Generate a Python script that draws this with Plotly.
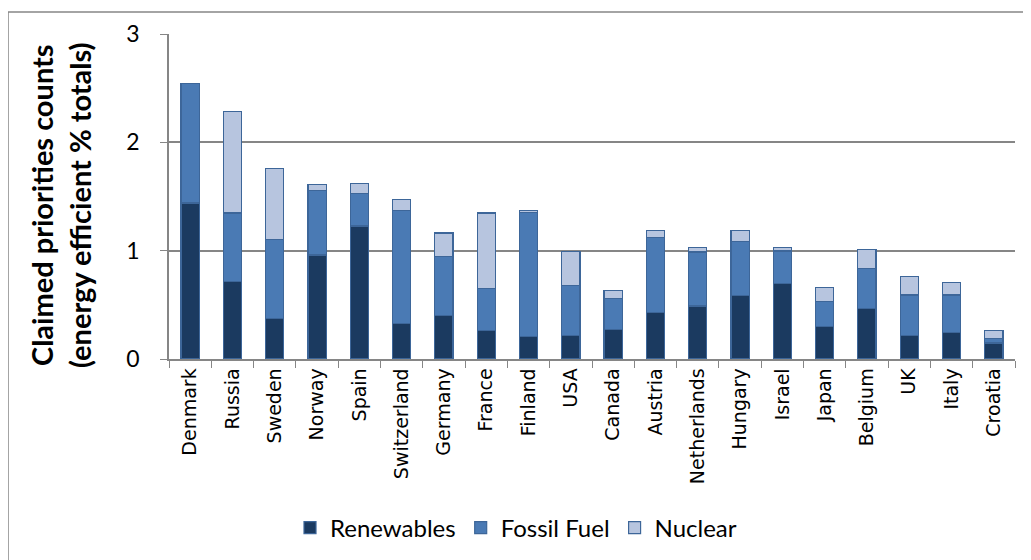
import plotly.graph_objects as go

countries = ["Denmark", "Russia", "Sweden", "Norway", "Spain", "Switzerland", "Germany",
             "France", "Finland", "USA", "Canada", "Austria", "Netherlands", "Hungary",
             "Israel", "Japan", "Belgium", "UK", "Italy", "Croatia"]
renewables = [1.44, 0.715, 0.377, 0.96, 1.227, 0.331, 0.405, 0.261, 0.206, 0.218,
              0.275, 0.431, 0.489, 0.587, 0.697, 0.30, 0.468, 0.214, 0.245, 0.147]
fossil = [1.10, 0.632, 0.727, 0.598, 0.304, 1.043, 0.543, 0.389, 1.144, 0.46,
          0.282, 0.694, 0.499, 0.499, 0.30, 0.229, 0.364, 0.376, 0.345, 0.043]
nuclear = [0.0, 0.938, 0.657, 0.055, 0.086, 0.101, 0.215, 0.697, 0.024, 0.313,
           0.073, 0.058, 0.04, 0.097, 0.031, 0.132, 0.18, 0.168, 0.113, 0.073]
yticks = [0, 1, 2, 3]

series = [("Renewables", renewables, "#1B3A60"),
          ("Fossil Fuel", fossil, "#4A7AB4"),
          ("Nuclear", nuclear, "#B7C5DF")]

fig = go.Figure()
for name, vals, col in series:
    fig.add_trace(go.Bar(x=countries, y=vals, name=name, width=0.43,
                         marker=dict(color=col, line=dict(color="#3D6699", width=1.2))))

OFF = 8  # page body margin
W, H = 1031 - OFF, 560 - OFF
L, T = 169 - OFF, 34 - OFF
R = W - (1015 - OFF)
B = H - (359 - OFF)
pw, ph = W - L - R, H - T - B

def px(x):
    return (x - OFF - L) / pw

def py(y):
    return (H - B - (y - OFF)) / ph

fig.update_layout(
    barmode="stack",
    width=W, height=H,
    margin=dict(l=L, r=R, t=T, b=B, autoexpand=False),
    paper_bgcolor="white", plot_bgcolor="white",
    showlegend=True,
    legend=dict(orientation="h", x=px(516), xanchor="center", y=py(528), yanchor="middle",
                font=dict(family="Lato", size=24, color="#000000"),
                traceorder="normal", itemwidth=30),
    xaxis=dict(showline=True, linecolor="#868686", linewidth=1.5,
               ticks="outside", tickson="boundaries", ticklen=7, tickcolor="#868686",
               tickangle=-90, tickfont=dict(family="DejaVu Sans", size=19, color="#000000"),
               showgrid=False),
    yaxis=dict(range=[0, 3], tickvals=yticks, showline=True, linecolor="#868686", linewidth=1.5,
               ticks="outside", ticklen=7, tickcolor="#868686", ticklabelstandoff=16,
               tickfont=dict(family="Lato", size=23, color="#000000"),
               showgrid=True, gridcolor="#868686", gridwidth=1.5, zeroline=False),
    annotations=[dict(text="<b>Claimed priorities counts<br>(energy efficient % totals)</b>",
                      xref="paper", yref="paper", x=px(60), y=py(205),
                      xanchor="center", yanchor="middle", textangle=-90, showarrow=False,
                      font=dict(family="Lato", size=29, color="#000000"))],
    shapes=[dict(type="rect", xref="paper", yref="paper",
                 x0=px(8), x1=px(1040), y0=py(575), y1=py(12),
                 line=dict(color="#868686", width=1.5), layer="below")],
)

fig.write_html("out.html")
